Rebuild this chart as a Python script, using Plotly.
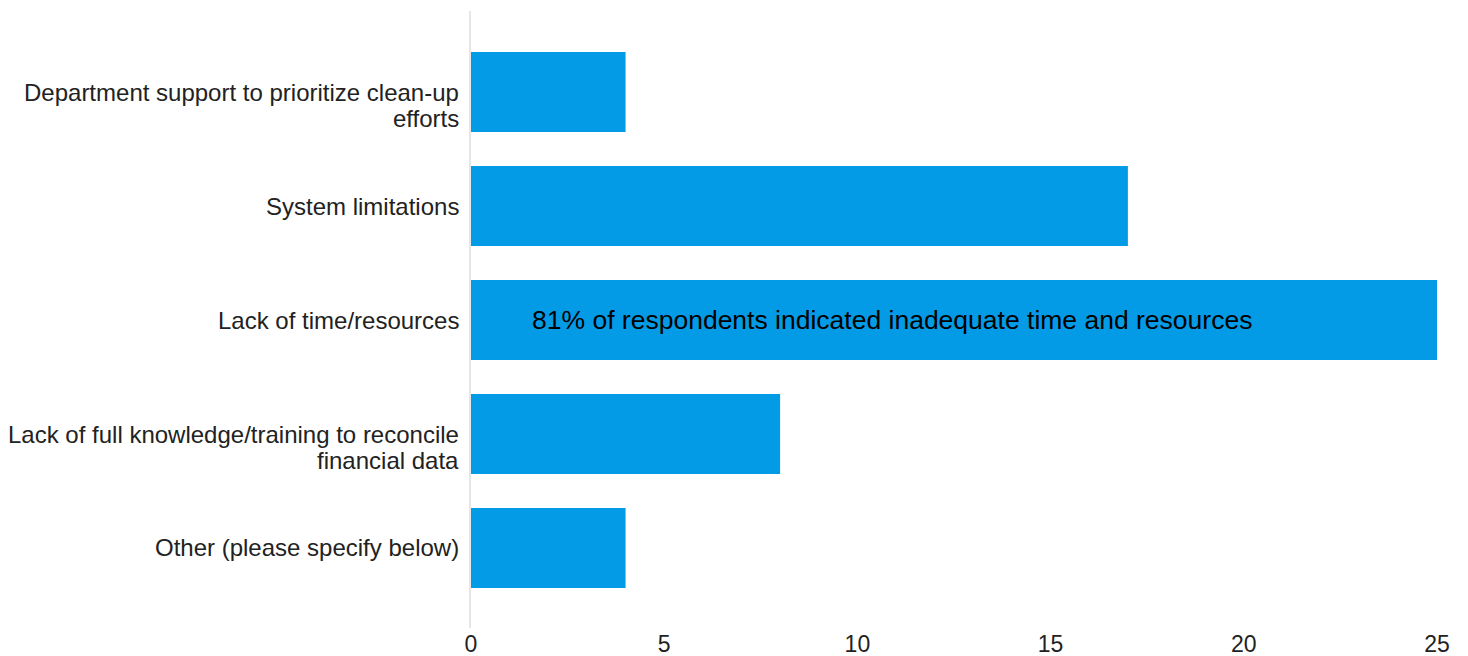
import plotly.graph_objects as go

# Survey responses: barriers to reconciling financial data
categories = [
    "Department support to prioritize clean-up efforts",
    "System limitations",
    "Lack of time/resources",
    "Lack of full knowledge/training to reconcile financial data",
    "Other (please specify below)",
]
# Wrapped label lines drawn beside each bar
label_lines = [
    ["Department support to prioritize clean-up", "efforts"],
    ["System limitations"],
    ["Lack of time/resources"],
    ["Lack of full knowledge/training to reconcile", "financial data"],
    ["Other (please specify below)"],
]
counts = [4, 17, 25, 8, 4]
x_ticks = [0, 5, 10, 15, 20, 25]
callout = "81% of respondents indicated inadequate time and resources"

BAR_COLOR = "#039BE5"
TEXT_COLOR = "#222222"
FONT = "Liberation Sans, Arial, sans-serif"
LABEL_SIZE = 24
LINE_STEP = 26

fig = go.Figure(
    go.Bar(
        x=counts,
        y=categories,
        orientation="h",
        marker=dict(color=BAR_COLOR, line=dict(width=0)),
        hoverinfo="x+y",
    )
)

# Category labels: first line level with the bar centre, further lines below
for cat, lines in zip(categories, label_lines):
    for i, line in enumerate(lines):
        fig.add_annotation(
            x=0,
            y=cat,
            xref="x",
            yref="y",
            text=line,
            showarrow=False,
            xanchor="right",
            yanchor="middle",
            xshift=-10,
            yshift=-LINE_STEP * i,
            font=dict(family=FONT, size=LABEL_SIZE, color=TEXT_COLOR),
        )

fig.add_annotation(
    x=1.52,
    y=categories[2],
    xref="x",
    yref="y",
    text=callout,
    showarrow=False,
    xanchor="left",
    yanchor="middle",
    font=dict(family=FONT, size=26.5, color="#000000"),
)

fig.update_layout(
    width=1468,
    height=656,
    margin=dict(l=471, r=31, t=11, b=28),
    paper_bgcolor="white",
    plot_bgcolor="white",
    bargap=0.298,
    showlegend=False,
    font=dict(family=FONT, size=LABEL_SIZE, color=TEXT_COLOR),
    xaxis=dict(
        range=[0, 25],
        tickvals=x_ticks,
        showgrid=False,
        zeroline=False,
        showline=False,
        ticks="",
        automargin=False,
        tickfont=dict(size=23, color=TEXT_COLOR),
    ),
    yaxis=dict(
        type="category",
        categoryorder="array",
        categoryarray=categories,
        range=[4.702, -0.711],
        showgrid=False,
        zeroline=False,
        showline=True,
        linecolor="#e6e6e6",
        linewidth=2,
        ticks="",
        showticklabels=False,
        automargin=False,
    ),
)

fig.write_html("out.html")
